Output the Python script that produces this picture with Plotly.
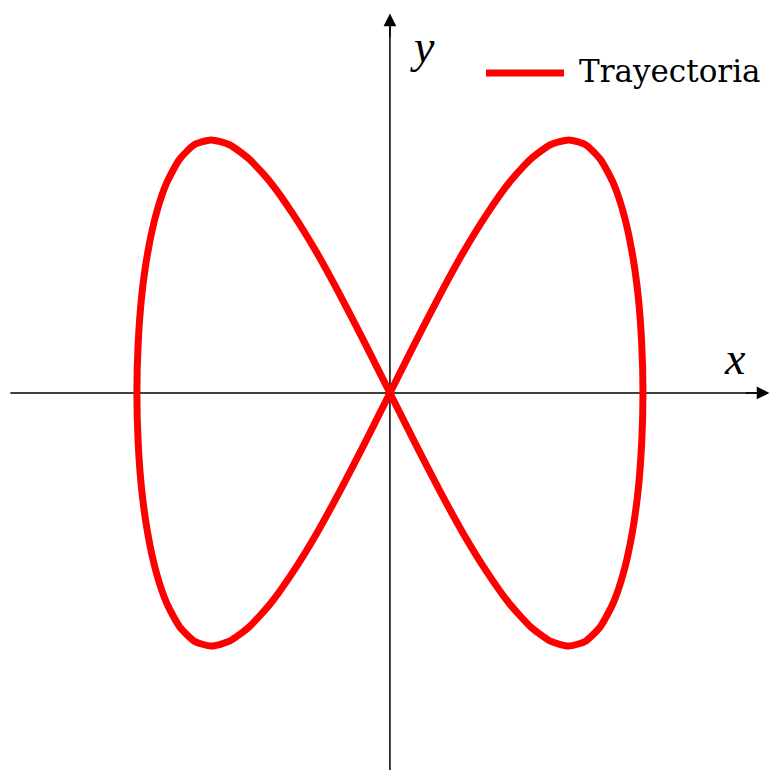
import plotly.graph_objects as go

# Trajectory points (x, y) along the figure-eight path
x_pts = [0.0, 0.098, 0.195, 0.290, 0.383, 0.471, 0.556, 0.634, 0.707, 0.773, 0.831, 0.882, 0.924,
         0.957, 0.981, 0.995, 1.0, 0.995, 0.981, 0.957, 0.924, 0.882, 0.831, 0.773, 0.707,
         0.634, 0.556, 0.471, 0.383, 0.290, 0.195, 0.098, 0.0,
         -0.098, -0.195, -0.290, -0.383, -0.471, -0.556, -0.634, -0.707, -0.773, -0.831, -0.882,
         -0.924, -0.957, -0.981, -0.995, -1.0, -0.995, -0.981, -0.957, -0.924, -0.882, -0.831,
         -0.773, -0.707, -0.634, -0.556, -0.471, -0.383, -0.290, -0.195, -0.098, 0.0]
y_pts = [0.0, 0.195, 0.383, 0.556, 0.707, 0.831, 0.924, 0.981, 1.0, 0.981, 0.924, 0.831, 0.707,
         0.556, 0.383, 0.195, 0.0, -0.195, -0.383, -0.556, -0.707, -0.831, -0.924, -0.981, -1.0,
         -0.981, -0.924, -0.831, -0.707, -0.556, -0.383, -0.195, 0.0,
         0.195, 0.383, 0.556, 0.707, 0.831, 0.924, 0.981, 1.0, 0.981, 0.924, 0.831,
         0.707, 0.556, 0.383, 0.195, 0.0, -0.195, -0.383, -0.556, -0.707, -0.831, -0.924,
         -0.981, -1.0, -0.981, -0.924, -0.831, -0.707, -0.556, -0.383, -0.195, 0.0]
series_name = "Trayectoria"
x_label = "x"
y_label = "y"

RED = "#ff0000"
AX_MIN, AX_MAX = -1.5, 1.5

fig = go.Figure()
fig.add_trace(go.Scatter(
    x=x_pts, y=y_pts, mode="lines", name=series_name,
    line=dict(color=RED, width=7, shape="spline", smoothing=0.6),
    showlegend=False, hoverinfo="skip",
))

# Axis lines through the origin (kept below the trajectory)
fig.add_shape(type="line", x0=AX_MIN, y0=0, x1=AX_MAX - 0.03, y1=0,
              line=dict(color="black", width=1.5), layer="below")
fig.add_shape(type="line", x0=0, y0=AX_MIN, x1=0, y1=AX_MAX - 0.03,
              line=dict(color="black", width=1.5), layer="below")

# Arrow tips
arrow_style = dict(showarrow=True, arrowhead=2, arrowsize=1.7, arrowwidth=1.5,
                   arrowcolor="black", text="", axref="x", ayref="y", xref="x", yref="y")
fig.add_annotation(x=AX_MAX, y=0, ax=AX_MAX - 0.1, ay=0, **arrow_style)
fig.add_annotation(x=0, y=AX_MAX, ax=0, ay=AX_MAX - 0.1, **arrow_style)

# Axis labels
label_font = dict(family="Liberation Serif", size=46, color="black")
fig.add_annotation(x=1.365, y=0.135, text=f"<i>{x_label}</i>", showarrow=False,
                   font=label_font, xref="x", yref="y")
fig.add_annotation(x=0.13, y=1.37, text=f"<i>{y_label}</i>", showarrow=False,
                   font=label_font, xref="x", yref="y")

# Legend entry: line sample and text
fig.add_shape(type="line", xref="paper", yref="paper",
              x0=486 / 770, x1=564 / 770, y0=1 - 73 / 770, y1=1 - 73 / 770,
              line=dict(color=RED, width=7))
fig.add_annotation(xref="paper", yref="paper", x=577 / 770, y=1 - 71 / 770,
                   xanchor="left", yanchor="middle", text=series_name, showarrow=False,
                   font=dict(family="DejaVu Serif", size=31, color="black"))

fig.update_xaxes(range=[-1.541, 1.502], visible=False, showgrid=False, zeroline=False)
fig.update_yaxes(range=[-1.490, 1.553], visible=False, showgrid=False, zeroline=False)
fig.update_layout(
    width=770, height=770,
    margin=dict(l=0, r=0, t=0, b=0),
    paper_bgcolor="white", plot_bgcolor="white",
    showlegend=False,
)

fig.write_html("out.html")
